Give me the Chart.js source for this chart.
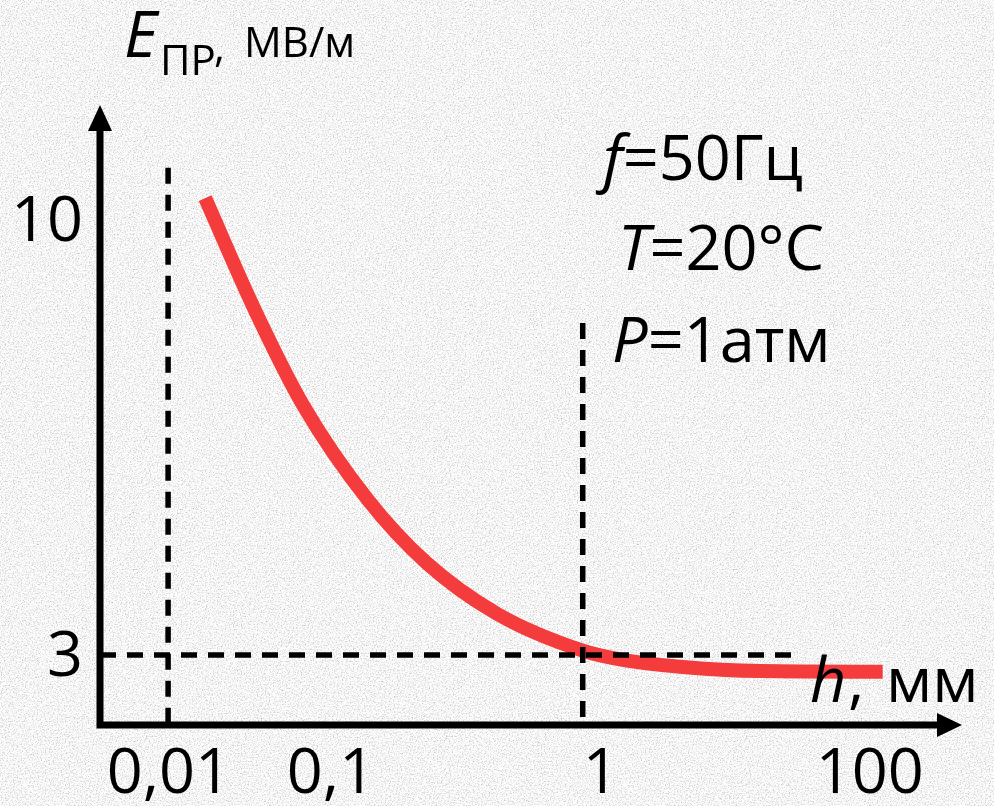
<!doctype html>
<html lang="ru">
<head>
  <meta charset="utf-8">
  <title>Eпр(h)</title>
  <script src="https://cdn.jsdelivr.net/npm/chart.js"></script>
  <style>
    html, body { margin: 0; padding: 0; width: 994px; height: 806px; overflow: hidden; background: #e2e2e2; }
    canvas { position: absolute; left: 0; top: 0; }
  </style>
</head>
<body>
  <canvas id="chart" width="994" height="806"></canvas>

  <script>
    // position along the (schematic) h axis, 0 = origin, 100 = arrow tip
    const curveX = [12.2, 18.0, 23.6, 31.0, 37.9, 46.1, 56.0, 60.3, 67.3, 76.6, 90.8];
    // breakdown field E, MV/m
    const curveE = [10.35, 8.54, 7.01, 5.51, 4.48, 3.66, 3.07, 2.93, 2.81, 2.74, 2.73];

    const xTickPos = [8.0, 26.8, 58.1, 89.3];
    const xTickLabels = ['0,01', '0,1', '1', '100'];
    const yTickValues = [10, 3];

    // dashed guide lines
    const guideA = [{ x: 7.9, y: 10.84 }, { x: 7.9, y: 1.87 }];
    const guideB = [{ x: 56.0, y: 8.34 }, { x: 56.0, y: 1.87 }];
    const guideC = [{ x: 0, y: 3 }, { x: 81.4, y: 3 }];

    // grainy paper background
    const svg = '<svg xmlns="http://www.w3.org/2000/svg" width="300" height="300">' +
      '<filter id="n"><feTurbulence type="fractalNoise" baseFrequency="0.75" numOctaves="3" stitchTiles="stitch"/>' +
      '<feColorMatrix values="1.1 0 0 0 0.37  1.1 0 0 0 0.37  1.1 0 0 0 0.37  0 0 0 0 1"/></filter>' +
      '<rect width="300" height="300" filter="url(#n)"/></svg>';
    document.body.style.backgroundImage = 'url("data:image/svg+xml,' + encodeURIComponent(svg) + '")';

    const FONT = '"Open Sans", "Noto Sans", sans-serif';

    const axesAndText = {
      id: 'axesAndText',
      afterDatasetsDraw(chart) {
        const { ctx, chartArea: a } = chart;
        const xs = chart.scales.x, ys = chart.scales.y;
        ctx.save();
        ctx.fillStyle = '#000';
        ctx.strokeStyle = '#000';
        ctx.lineWidth = 7;

        // axes
        ctx.beginPath();
        ctx.moveTo(a.left, a.top + 20);
        ctx.lineTo(a.left, a.bottom);
        ctx.lineTo(a.right - 20, a.bottom);
        ctx.stroke();
        // arrow heads
        ctx.beginPath();
        ctx.moveTo(a.left, a.top);
        ctx.lineTo(a.left - 12, a.top + 26);
        ctx.lineTo(a.left + 12, a.top + 26);
        ctx.closePath();
        ctx.fill();
        ctx.beginPath();
        ctx.moveTo(a.right, a.bottom);
        ctx.lineTo(a.right - 25, a.bottom - 12);
        ctx.lineTo(a.right - 25, a.bottom + 12);
        ctx.closePath();
        ctx.fill();

        // tick labels
        ctx.font = '63px ' + FONT;
        ctx.textBaseline = 'alphabetic';
        ctx.textAlign = 'center';
        xTickPos.forEach((p, i) => ctx.fillText(xTickLabels[i], xs.getPixelForValue(p), a.bottom + 68));
        ctx.textAlign = 'right';
        yTickValues.forEach(v => ctx.fillText(String(v), a.left - 17, ys.getPixelForValue(v) + 21));

        // y-axis title: Eпр, МВ/м
        ctx.textAlign = 'left';
        ctx.font = 'italic 64px ' + FONT;
        ctx.fillText('E', 124, 57);
        ctx.font = '42px ' + FONT;
        ctx.fillText('ПР', 160, 75);
        ctx.fillText(',', 214, 62);
        ctx.fillText('МВ/м', 244, 57);

        // x-axis title: h, мм
        ctx.font = 'italic 63px ' + FONT;
        ctx.fillText('h', 810, 702);
        ctx.font = '63px ' + FONT;
        ctx.fillText(',', 848, 702);
        ctx.fillText('мм', 886, 702);

        // conditions
        const cond = [['f', '=50Гц', 603, 180], ['T', '=20°C', 618, 270], ['P', '=1атм', 612, 362]];
        cond.forEach(([sym, rest, x, y]) => {
          ctx.font = 'italic 63px ' + FONT;
          ctx.fillText(sym, x, y);
          const w = ctx.measureText(sym).width;
          ctx.font = '63px ' + FONT;
          ctx.fillText(rest, x + w, y);
        });
        ctx.restore();
      }
    };

    const dash = data => ({
      data,
      borderColor: '#000',
      borderWidth: 5.5,
      borderDash: [16, 11],
      pointRadius: 0,
      fill: false,
      clip: false
    });

    new Chart(document.getElementById('chart'), {
      type: 'line',
      data: {
        datasets: [
          dash(guideC),
          dash(guideA),
          dash(guideB),
          {
            data: curveX.map((x, i) => ({ x, y: curveE[i] })),
            borderColor: '#f43c3c',
            borderWidth: 14,
            borderCapStyle: 'butt',
            cubicInterpolationMode: 'monotone',
            pointRadius: 0,
            fill: false,
            clip: false
          }
        ]
      },
      options: {
        responsive: false,
        animation: false,
        events: [],
        layout: { padding: { left: 100, right: 32, top: 105, bottom: 81 } },
        plugins: { legend: { display: false }, tooltip: { enabled: false } },
        scales: {
          x: { type: 'linear', min: 0, max: 100, display: false },
          y: { type: 'linear', min: 1.873, max: 11.85, display: false }
        }
      },
      plugins: [axesAndText]
    });
  </script>
</body>
</html>
